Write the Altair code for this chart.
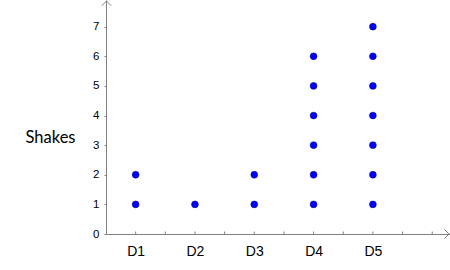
import altair as alt
import pandas as pd

categories = ["D1", "D2", "D3", "D4", "D5"]
shakes = [[1, 2], [1], [1, 2], [1, 2, 3, 4, 5, 6], [1, 2, 3, 4, 5, 6, 7]]
x_ticks = list(range(1, 12))
y_ticks = list(range(0, 8))

rows = []
for i, (c, vals) in enumerate(zip(categories, shakes)):
    for v in vals:
        rows.append({"cat": c, "pos": 2 * i + 1, "shakes": v})
df = pd.DataFrame(rows)

label_expr = " : ".join(
    [f"datum.value == {2*i+1} ? '{c}'" for i, c in enumerate(categories)]
) + " : ''"

AX = "#808080"
xs = alt.Scale(domain=[0, 11.6], nice=False, zero=False)
ys = alt.Scale(domain=[0, 7.9], nice=False, zero=False)

points = alt.Chart(df).mark_circle(
    size=46, color="#0000ff", opacity=1, stroke="#00008b", strokeWidth=0.6
).encode(
    x=alt.X("pos:Q", scale=xs, axis=alt.Axis(
        values=x_ticks, labelExpr=label_expr, grid=False, domainColor=AX,
        ticks=False, labelFont="Liberation Sans", labelFontSize=14,
        labelColor="#000", labelPadding=10, title=None)),
    y=alt.Y("shakes:Q", scale=ys, axis=alt.Axis(
        values=y_ticks, grid=False, domainColor=AX, tickColor=AX, tickSize=2,
        labelFont="Liberation Sans", labelFontSize=11.5, labelColor="#000",
        labelPadding=5, title="Shakes", titleAngle=0, titleAlign="center",
        titleBaseline="middle", titleX=-56, titleY=137, titleFont="Lato",
        titleFontSize=16.5, titleFontWeight="normal", titleColor="#000")),
)

xt = alt.Chart(pd.DataFrame({"t": x_ticks})).mark_rule(color=AX, strokeWidth=1).encode(
    x=alt.X("t:Q", scale=xs), y=alt.value(231.5), y2=alt.value(234)
)

arrow_y = alt.Chart(pd.DataFrame({"a": [0]})).mark_point(
    shape="M-1,1L0,0L1,1", size=90, color=AX, filled=False, strokeWidth=1, opacity=1
).encode(x=alt.value(0.5), y=alt.value(1))

arrow_x = alt.Chart(pd.DataFrame({"a": [0]})).mark_point(
    shape="M-1,-1L0,0L-1,1", size=80, color=AX, filled=False, strokeWidth=1, opacity=1
).encode(x=alt.value(343), y=alt.value(234))

chart = alt.layer(xt, points, arrow_y, arrow_x).properties(
    width=344, height=234,
    autosize=alt.AutoSizeParams(type="none"),
    padding={"left": 106, "top": 0, "right": 0, "bottom": 36},
).configure_view(stroke=None).configure_axis(domainWidth=1)

chart.save("out.html", embed_options={"renderer": "svg", "actions": False})
